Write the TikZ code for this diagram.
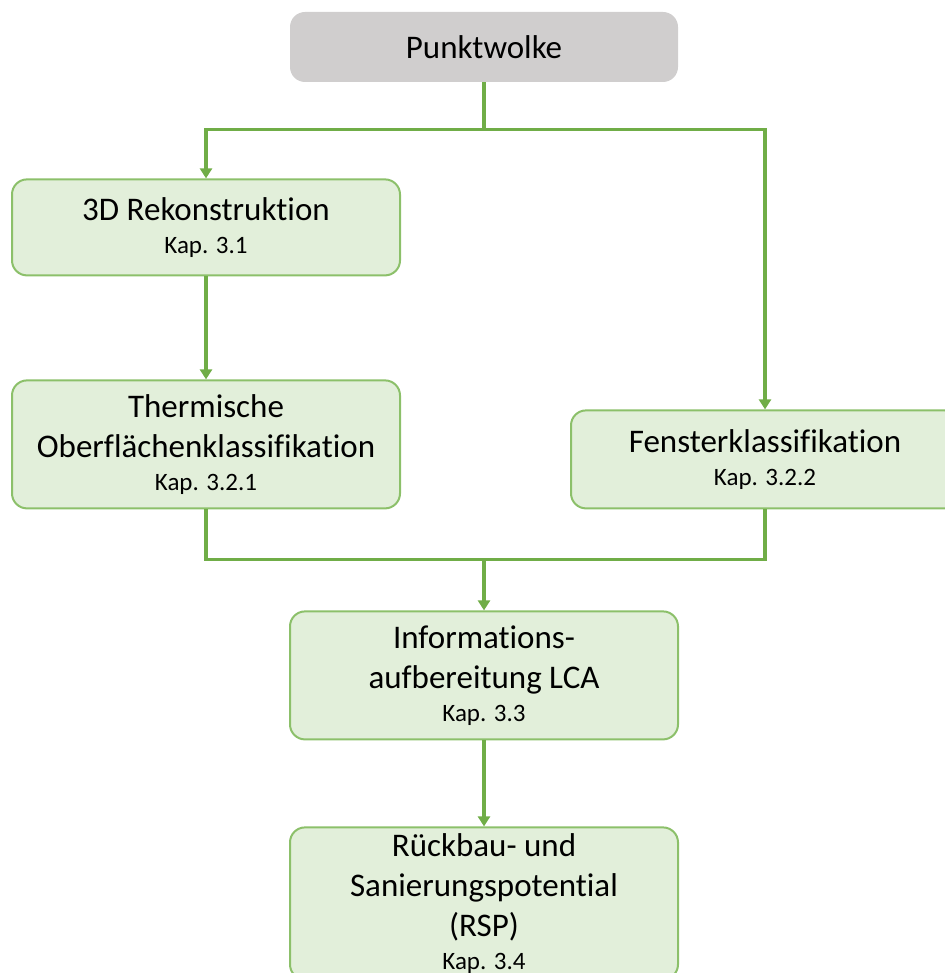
\documentclass[tikz,border=0pt]{standalone}
\usepackage{fontspec}
\setmainfont[Ligatures={NoCommon}]{Carlito}
\usetikzlibrary{positioning, arrows.meta}
\definecolor{linegreen}{HTML}{70AD47}
\definecolor{boxgreen}{HTML}{E2EFDA}
\definecolor{boxgray}{HTML}{D0CECE}
\definecolor{bordergreen}{HTML}{8CC06A}
\newcommand{\kap}[1]{{\fontsize{12.5}{15}\selectfont #1}}

\begin{document}
\begin{tikzpicture}[
    box/.style={draw=bordergreen, line width=1pt, rounded corners=7.5pt, minimum width=194pt,
                minimum height=#1, fill=boxgreen, align=center, inner sep=2pt,
                font=\fontsize{16.5}{20}\selectfont},
    box/.default=48pt,
    source/.style={rounded corners=7.5pt, minimum width=194pt, minimum height=35pt,
                   fill=boxgray, font=\fontsize{16.5}{20}\selectfont},
    line/.style={draw=linegreen, line width=1.6pt},
    arrow/.style={line, -{Triangle[width=6pt, length=5pt]}}
]
\useasboundingbox (0,0) rectangle (472.5pt,-486.5pt);
\clip (0,0) rectangle (472.5pt,-486.5pt);

% Source
\node[source] (pw) at (242pt,-23.5pt) {Punktwolke};

% Left branch
\node[box, below=48pt of pw, xshift=-139pt] (rekon) {3D Rekonstruktion\\[-3.5pt]\kap{Kap. 3.1}};
\node[box=64pt, below=51.5pt of rekon] (therm)
    {Thermische\\Oberflächenklassifikation\\[-3.5pt]\kap{Kap. 3.2.1}};

% Right branch
\node[box=49pt, anchor=south west] (fenster) at ([xshift=84.5pt]therm.south east)
    {Fensterklassifikation\\[-3.5pt]\kap{Kap. 3.2.2}};

% Split and join
\draw[line] (pw.south) -- ++(0,-23.5pt) coordinate (split);
\draw[arrow] (split) -| (rekon.north);
\draw[arrow] (split) -| (fenster.north);
\draw[arrow] (rekon) -- (therm);
\draw[line] (therm.south) -- ++(0,-25pt) coordinate (join) -| (fenster.south);
\coordinate (mid) at (pw.south |- join);

% Results
\node[box=64pt, below=25.5pt of mid] (lca)
    {Informations-\\aufbereitung LCA\\[-3.5pt]\kap{Kap. 3.3}};
\node[box=76pt, below=43pt of lca] (rsp)
    {Rückbau- und\\Sanierungspotential\\(RSP)\\[-3.5pt]\kap{Kap. 3.4}};

\draw[arrow] (mid) -- (lca);
\draw[arrow] (lca) -- (rsp);

\end{tikzpicture}
\end{document}
